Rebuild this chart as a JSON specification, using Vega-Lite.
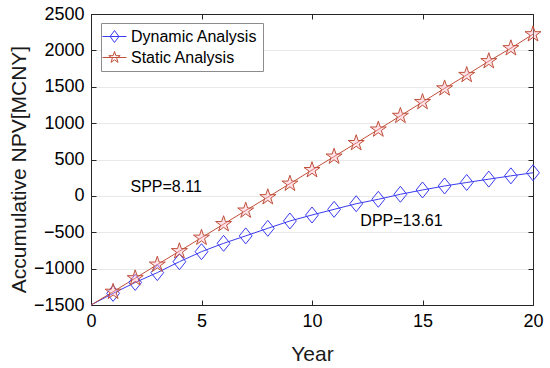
{
  "$schema": "https://vega.github.io/schema/vega-lite/v6.json",
  "width": 442,
  "height": 291,
  "autosize": "none",
  "padding": {"left": 91, "top": 14, "right": 17, "bottom": 63},
  "background": "white",
  "config": {
    "font": "Liberation Sans",
    "view": {"stroke": null},
    "axis": {"labelColor": "#000000", "titleColor": "#1a1a1a", "domainColor": "#262626", "tickColor": "#262626", "labelFont": "Liberation Sans", "titleFont": "Liberation Sans", "titleFontWeight": "normal", "labelFlush": false, "format": "d"}
  },
  "data": {
    "values": [
      {"year": 0, "series": "Dynamic Analysis", "npv": -1500},
      {"year": 1, "series": "Dynamic Analysis", "npv": -1340},
      {"year": 2, "series": "Dynamic Analysis", "npv": -1190},
      {"year": 3, "series": "Dynamic Analysis", "npv": -1055},
      {"year": 4, "series": "Dynamic Analysis", "npv": -905},
      {"year": 5, "series": "Dynamic Analysis", "npv": -767},
      {"year": 6, "series": "Dynamic Analysis", "npv": -652},
      {"year": 7, "series": "Dynamic Analysis", "npv": -550},
      {"year": 8, "series": "Dynamic Analysis", "npv": -446},
      {"year": 9, "series": "Dynamic Analysis", "npv": -345},
      {"year": 10, "series": "Dynamic Analysis", "npv": -263},
      {"year": 11, "series": "Dynamic Analysis", "npv": -185},
      {"year": 12, "series": "Dynamic Analysis", "npv": -108},
      {"year": 13, "series": "Dynamic Analysis", "npv": -47},
      {"year": 14, "series": "Dynamic Analysis", "npv": 22},
      {"year": 15, "series": "Dynamic Analysis", "npv": 81},
      {"year": 16, "series": "Dynamic Analysis", "npv": 136},
      {"year": 17, "series": "Dynamic Analysis", "npv": 184},
      {"year": 18, "series": "Dynamic Analysis", "npv": 230},
      {"year": 19, "series": "Dynamic Analysis", "npv": 275},
      {"year": 20, "series": "Dynamic Analysis", "npv": 318},
      {"year": 0, "series": "Static Analysis", "npv": -1500},
      {"year": 1, "series": "Static Analysis", "npv": -1318},
      {"year": 2, "series": "Static Analysis", "npv": -1132},
      {"year": 3, "series": "Static Analysis", "npv": -945},
      {"year": 4, "series": "Static Analysis", "npv": -760},
      {"year": 5, "series": "Static Analysis", "npv": -575},
      {"year": 6, "series": "Static Analysis", "npv": -388},
      {"year": 7, "series": "Static Analysis", "npv": -202},
      {"year": 8, "series": "Static Analysis", "npv": -18},
      {"year": 9, "series": "Static Analysis", "npv": 168},
      {"year": 10, "series": "Static Analysis", "npv": 355},
      {"year": 11, "series": "Static Analysis", "npv": 540},
      {"year": 12, "series": "Static Analysis", "npv": 726},
      {"year": 13, "series": "Static Analysis", "npv": 912},
      {"year": 14, "series": "Static Analysis", "npv": 1100},
      {"year": 15, "series": "Static Analysis", "npv": 1290},
      {"year": 16, "series": "Static Analysis", "npv": 1478},
      {"year": 17, "series": "Static Analysis", "npv": 1662},
      {"year": 18, "series": "Static Analysis", "npv": 1852},
      {"year": 19, "series": "Static Analysis", "npv": 2030},
      {"year": 20, "series": "Static Analysis", "npv": 2222}
    ]
  },
  "resolve": {"axis": {"x": "independent", "y": "independent"}},
  "layer": [
    {
      "mark": {"type": "line", "opacity": 0},
      "encoding": {
        "x": {"field": "year", "type": "quantitative", "scale": {"domain": [0, 20], "nice": false, "zero": false},
          "axis": {"orient": "bottom", "values": [0, 5, 10, 15, 20], "grid": false, "tickSize": -5, "labelPadding": 12, "labelFontSize": 18, "title": "Year", "titleFontSize": 21, "titleBaseline": "alphabetic", "titleY": 55}},
        "y": {"field": "npv", "type": "quantitative", "scale": {"domain": [-1500, 2500], "nice": false, "zero": false},
          "axis": {"orient": "left", "values": [-1500, -1000, -500, 0, 500, 1000, 1500, 2000, 2500], "grid": true, "gridColor": "#e8e8e8", "tickSize": -5, "labelPadding": 12, "labelFontSize": 18, "title": "Accumulative NPV[MCNY]", "titleFontSize": 21, "titleBaseline": "middle", "titleAlign": "center", "titleX": -72, "titleY": 155}},
        "detail": {"field": "series"}
      }
    },
    {
      "mark": {"type": "line", "opacity": 0},
      "encoding": {
        "x": {"field": "year", "type": "quantitative", "axis": {"orient": "top", "values": [0, 5, 10, 15, 20], "labels": false, "grid": false, "tickSize": -5, "title": null}},
        "y": {"field": "npv", "type": "quantitative", "axis": {"orient": "right", "values": [-1500, -1000, -500, 0, 500, 1000, 1500, 2000, 2500], "labels": false, "grid": false, "tickSize": -5, "title": null}},
        "detail": {"field": "series"}
      }
    },
    {
      "mark": {"type": "line", "strokeWidth": 1},
      "encoding": {
        "x": {"field": "year", "type": "quantitative", "axis": null},
        "y": {"field": "npv", "type": "quantitative", "axis": null},
        "color": {"field": "series", "type": "nominal", "scale": {"domain": ["Dynamic Analysis", "Static Analysis"], "range": ["#3a3af0", "#c0503a"]},
          "legend": {
            "title": null, "orient": "none", "legendX": 10, "legendY": 9,
            "fillColor": "white", "strokeColor": "#8c8c8c", "padding": 5, "cornerRadius": 0,
            "labelFontSize": 16, "labelFont": "Liberation Sans", "labelColor": "#000000",
            "symbolSize": 256, "labelOffset": 8, "rowPadding": 4, "symbolStrokeWidth": 1,
            "symbolType": {"expr": "datum.value === 'Dynamic Analysis' ? 'M-1.5,0L1.5,0M0,-0.75L0.55,0L0,0.75L-0.55,0Z' : 'M-1.5,0L1.5,0M0,-0.75L0.17,-0.23L0.71,-0.23L0.27,0.09L0.44,0.61L0,0.29L-0.44,0.61L-0.27,0.09L-0.71,-0.23L-0.17,-0.23Z'"}
          }}
      }
    },
    {
      "transform": [{"filter": "datum.year >= 1 && datum.series === 'Dynamic Analysis'"}],
      "mark": {"type": "point", "filled": false, "size": 256, "strokeWidth": 1, "opacity": 1, "shape": "M0,-1L0.8,0L0,1L-0.8,0Z"},
      "encoding": {
        "x": {"field": "year", "type": "quantitative", "axis": null},
        "y": {"field": "npv", "type": "quantitative", "axis": null},
        "color": {"field": "series", "type": "nominal",
          "legend": {
            "title": null, "orient": "none", "legendX": 10, "legendY": 9,
            "fillColor": "white", "strokeColor": "#8c8c8c", "padding": 5, "cornerRadius": 0,
            "labelFontSize": 16, "labelFont": "Liberation Sans", "labelColor": "#000000",
            "symbolSize": 256, "labelOffset": 8, "rowPadding": 4, "symbolStrokeWidth": 1,
            "symbolType": {"expr": "datum.value === 'Dynamic Analysis' ? 'M-1.5,0L1.5,0M0,-0.75L0.55,0L0,0.75L-0.55,0Z' : 'M-1.5,0L1.5,0M0,-0.75L0.17,-0.23L0.71,-0.23L0.27,0.09L0.44,0.61L0,0.29L-0.44,0.61L-0.27,0.09L-0.71,-0.23L-0.17,-0.23Z'"}
          }}
      }
    },
    {
      "transform": [{"filter": "datum.year >= 1 && datum.series === 'Static Analysis'"}],
      "mark": {"type": "point", "filled": false, "fill": "#ffb3c6", "fillOpacity": 0.4, "size": 256, "strokeWidth": 1, "opacity": 1, "shape": "M0,-1.05L0.24,-0.32L1,-0.32L0.38,0.12L0.62,0.85L0,0.4L-0.62,0.85L-0.38,0.12L-1,-0.32L-0.24,-0.32Z"},
      "encoding": {
        "x": {"field": "year", "type": "quantitative", "axis": null},
        "y": {"field": "npv", "type": "quantitative", "axis": null},
        "color": {"field": "series", "type": "nominal",
          "legend": {
            "title": null, "orient": "none", "legendX": 10, "legendY": 9,
            "fillColor": "white", "strokeColor": "#8c8c8c", "padding": 5, "cornerRadius": 0,
            "labelFontSize": 16, "labelFont": "Liberation Sans", "labelColor": "#000000",
            "symbolSize": 256, "labelOffset": 8, "rowPadding": 4, "symbolStrokeWidth": 1,
            "symbolType": {"expr": "datum.value === 'Dynamic Analysis' ? 'M-1.5,0L1.5,0M0,-0.75L0.55,0L0,0.75L-0.55,0Z' : 'M-1.5,0L1.5,0M0,-0.75L0.17,-0.23L0.71,-0.23L0.27,0.09L0.44,0.61L0,0.29L-0.44,0.61L-0.27,0.09L-0.71,-0.23L-0.17,-0.23Z'"}
          }}
      }
    },
    {
      "data": {"values": [{"year": 3.4, "npv": 122, "label": "SPP=8.11"}, {"year": 14.05, "npv": -352, "label": "DPP=13.61"}]},
      "mark": {"type": "text", "fontSize": 16, "font": "Liberation Sans", "color": "#000000", "align": "center", "baseline": "middle"},
      "encoding": {
        "x": {"field": "year", "type": "quantitative", "axis": null},
        "y": {"field": "npv", "type": "quantitative", "axis": null},
        "text": {"field": "label"}
      }
    }
  ]
}
